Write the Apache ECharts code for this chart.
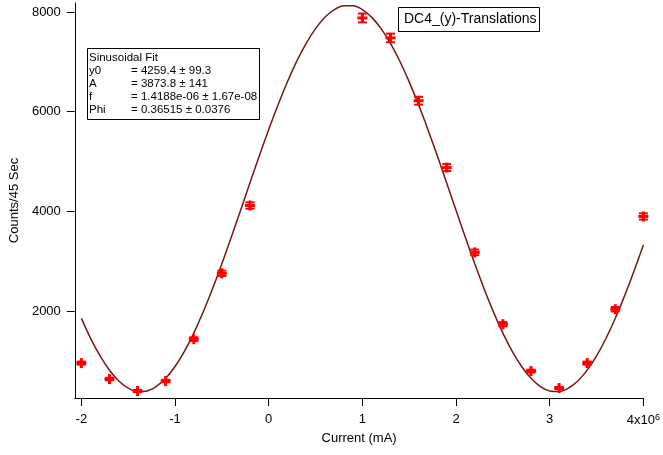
<!DOCTYPE html>
<html>
<head>
<meta charset="utf-8">
<script src="https://cdn.jsdelivr.net/npm/echarts@6/dist/echarts.min.js"></script>
<style>
  html, body { margin: 0; padding: 0; background: #fff; }
  #chart { width: 663px; height: 455px; }
</style>
</head>
<body>
<div id="chart"></div>
<script>
// measured points (current in 10^6 units, counts per 45 s, error)
const pointX = [-2.0, -1.7, -1.4, -1.1, -0.8, -0.5, -0.2, 1.0, 1.3, 1.6, 1.9, 2.2, 2.5, 2.8, 3.1, 3.4, 3.7, 4.0];
const pointY = [960, 640, 400, 600, 1440, 2760, 4120, 7880, 7480, 6220, 4880, 3180, 1740, 800, 460, 960, 2040, 3900];
const pointErr = [31, 25, 20, 24, 38, 53, 64, 89, 86, 79, 70, 56, 42, 28, 21, 31, 45, 62];

// fit curve
const fitX = [-2.0, -1.9, -1.8, -1.7, -1.6, -1.5, -1.4, -1.3, -1.2, -1.1, -1.0, -0.9, -0.8, -0.7, -0.6, -0.5, -0.4, -0.3, -0.2, -0.1,
  0.0, 0.1, 0.2, 0.3, 0.4, 0.5, 0.6, 0.7, 0.8, 0.9, 1.0, 1.1, 1.2, 1.3, 1.4, 1.5, 1.6, 1.7, 1.8, 1.9,
  2.0, 2.1, 2.2, 2.3, 2.4, 2.5, 2.6, 2.7, 2.8, 2.9, 3.0, 3.1, 3.2, 3.3, 3.4, 3.5, 3.6, 3.7, 3.8, 3.9, 4.0];
const fitY = [1856, 1451, 1103, 816, 600, 457, 391, 401, 491, 655, 892, 1196, 1562, 1983, 2450, 2952, 3481, 4025, 4574, 5117,
  5643, 6141, 6600, 7014, 7371, 7666, 7893, 8046, 8124, 8123, 8046, 7892, 7665, 7370, 7012, 6598, 6138, 5640, 5115, 4572,
  4023, 3478, 2950, 2447, 1981, 1560, 1195, 891, 654, 490, 402, 391, 458, 601, 818, 1104, 1453, 1859, 2313, 2806, 3328];

const xTicks = [-2, -1, 0, 1, 2, 3, 4];
const yTicks = [2000, 4000, 6000, 8000];

const fitLines = [
  ['y0', '= 4259.4 ± 99.3'],
  ['A', '= 3873.8 ± 141'],
  ['f', '= 1.4188e-06 ± 1.67e-08'],
  ['Phi', '= 0.36515 ± 0.0376']
];

const myChart = echarts.init(document.getElementById('chart'));
const font = '"Liberation Sans", Arial, sans-serif';

const fitGraphics = [];
fitLines.forEach(function (row, i) {
  fitGraphics.push({ type: 'text', x: 89, y: 71 + i * 12.8, style: { text: row[0], font: '11.5px ' + font, fill: '#000', verticalAlign: 'middle' } });
  fitGraphics.push({ type: 'text', x: 131, y: 71 + i * 12.8, style: { text: row[1], font: '11.5px ' + font, fill: '#000', verticalAlign: 'middle' } });
});

const option = {
  animation: false,
  backgroundColor: '#fff',
  grid: { left: 73, right: 17, top: 3, bottom: 57 },
  xAxis: {
    type: 'value',
    min: -2.07,
    max: 4,
    name: 'Current (mA)',
    nameLocation: 'middle',
    nameGap: 33,
    nameTextStyle: { fontFamily: font, fontSize: 13, color: '#000' },
    splitLine: { show: false },
    axisLine: { onZero: false, lineStyle: { color: '#000', width: 1 } },
    axisTick: { show: true, customValues: xTicks, length: 8, lineStyle: { color: '#000' } },
    axisLabel: {
      customValues: xTicks,
      margin: 15,
      fontFamily: font,
      fontSize: 13,
      color: '#000',
      formatter: function (v) {
        return v === 4 ? '4x10{sup|6}' : String(v);
      },
      rich: { sup: { fontSize: 9, verticalAlign: 'top', padding: [0, 0, 6, 0], fontFamily: font, color: '#000' } }
    }
  },
  yAxis: {
    type: 'value',
    min: 260,
    max: 8180,
    name: 'Counts/45 Sec',
    nameLocation: 'middle',
    nameGap: 41,
    nameTextStyle: { fontFamily: font, fontSize: 13, color: '#000' },
    splitLine: { show: false },
    axisLine: { show: true, onZero: false, lineStyle: { color: '#000', width: 1 } },
    axisTick: { show: true, customValues: yTicks, length: 8, lineStyle: { color: '#000' } },
    axisLabel: {
      customValues: yTicks, margin: 14, fontFamily: font, fontSize: 13, color: '#000',
      formatter: function (v) { return String(v); }
    }
  },
  series: [
    {
      name: 'fit',
      type: 'line',
      data: fitX.map(function (x, i) { return [x, fitY[i]]; }),
      showSymbol: false,
      smooth: 0.3,
      lineStyle: { color: '#7b1416', width: 1.5 },
      z: 2
    },
    {
      name: 'DC4_(y)-Translations',
      type: 'custom',
      data: pointX.map(function (x, i) { return [x, pointY[i], pointErr[i]]; }),
      encode: { x: 0, y: 1 },
      z: 3,
      renderItem: function (params, api) {
        const x = api.value(0), y = api.value(1), e = api.value(2);
        const c = api.coord([x, y]);
        const t = api.coord([x, y + e]);
        const b = api.coord([x, y - e]);
        const red = '#ff0000';
        return {
          type: 'group',
          children: [
            { type: 'line', shape: { x1: c[0], y1: t[1], x2: c[0], y2: b[1] }, style: { stroke: red, lineWidth: 2 } },
            { type: 'line', shape: { x1: c[0] - 4.5, y1: t[1], x2: c[0] + 4.5, y2: t[1] }, style: { stroke: red, lineWidth: 2 } },
            { type: 'line', shape: { x1: c[0] - 4.5, y1: b[1], x2: c[0] + 4.5, y2: b[1] }, style: { stroke: red, lineWidth: 2 } },
            { type: 'rect', shape: { x: c[0] - 5, y: c[1] - 1.5, width: 10, height: 3 }, style: { fill: red } },
            { type: 'rect', shape: { x: c[0] - 1.5, y: c[1] - 5, width: 3, height: 10 }, style: { fill: red } }
          ]
        };
      }
    }
  ],
  graphic: [
    {
      type: 'group',
      children: [
        { type: 'rect', shape: { x: 398.5, y: 7.5, width: 141, height: 24 }, style: { fill: '#fff', stroke: '#000', lineWidth: 1 } },
        { type: 'text', x: 404, y: 19.5, style: { text: 'DC4_(y)-Translations', font: '14px ' + font, fill: '#000', verticalAlign: 'middle' } },
        { type: 'rect', shape: { x: 87.5, y: 48.5, width: 172, height: 71 }, style: { fill: '#fff', stroke: '#000', lineWidth: 1 } },
        { type: 'text', x: 89, y: 57.5, style: { text: 'Sinusoidal Fit', font: '11.5px ' + font, fill: '#000', verticalAlign: 'middle' } }
      ].concat(fitGraphics)
    }
  ]
};

myChart.setOption(option);
</script>
</body>
</html>
